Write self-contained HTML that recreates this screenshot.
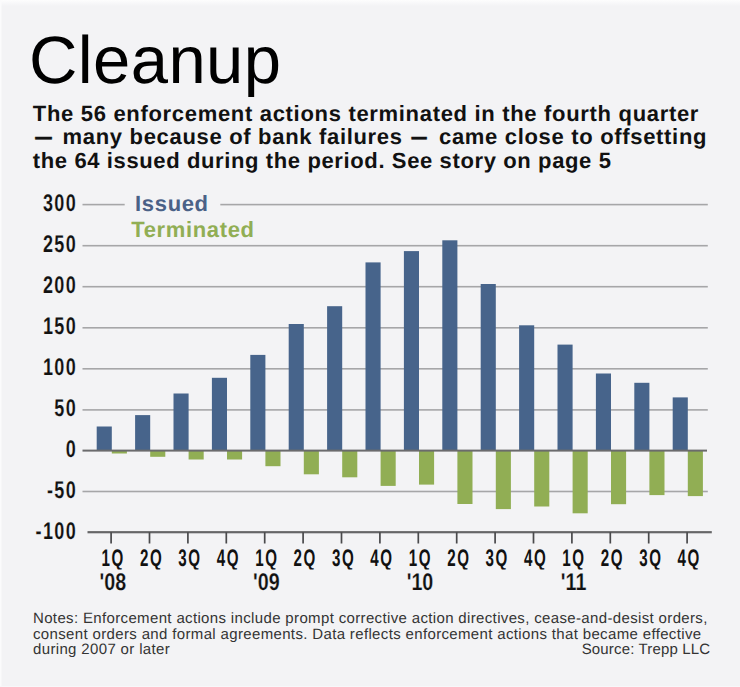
<!DOCTYPE html><html><head><meta charset="utf-8"><title>Cleanup</title><style>
html,body{margin:0;padding:0;background:#f3f3f5;}
svg{display:block;}
text{font-family:"Liberation Sans",Arial,Helvetica,sans-serif;text-rendering:geometricPrecision;}
.t{font-size:67px;fill:#000;letter-spacing:0.4px;}
.sub{font-size:22px;font-weight:bold;letter-spacing:0.68px;fill:#111;}
.dash{stroke:#111;stroke-width:0.6px;}
.yl{font-size:24px;font-weight:bold;fill:#111;stroke:#f3f3f5;stroke-width:0.15px;letter-spacing:1.80px;}
.xl{font-size:24px;font-weight:bold;fill:#111;stroke:#f3f3f5;stroke-width:0.20px;}
.lg{font-size:22px;font-weight:bold;letter-spacing:0.65px;}
.nt{font-size:15px;letter-spacing:0.35px;fill:#333;}
</style></head><body>
<svg width="740" height="687" viewBox="0 0 740 687">
<rect x="0" y="0" width="740" height="687" fill="#f3f3f5"/>
<defs><linearGradient id="tg" x1="0" y1="0" x2="0" y2="1"><stop offset="0" stop-color="#fdfdfd"/><stop offset="0.3" stop-color="#fafafb"/><stop offset="1" stop-color="#f3f3f5"/></linearGradient></defs>
<rect x="0" y="0" width="740" height="6" fill="url(#tg)"/>
<rect x="0" y="0" width="1.5" height="687" fill="#fbfbfc"/>
<rect x="0" y="686" width="740" height="1" fill="#f7f7f9"/>
<text class="t" x="29" y="83">Cleanup</text>
<text class="sub" x="32.8" y="121" style="letter-spacing:0.685px">The 56 enforcement actions terminated in the fourth quarter</text>
<text class="sub dash" transform="translate(35.2 144.3) scale(0.75 1)">—</text>
<text class="sub" x="62.6" y="144.3">many because of bank failures</text>
<text class="sub dash" transform="translate(411.6 144.3) scale(0.69 1)">—</text>
<text class="sub" x="439.0" y="144.3">came close to offsetting</text>
<text class="sub" x="32.8" y="167.5" style="letter-spacing:0.62px">the 64 issued during the period. See story on page 5</text>
<rect x="82.5" y="203.80" width="625.3" height="1.6" fill="#a6a6a8"/>
<rect x="82.5" y="244.90" width="625.3" height="1.6" fill="#a6a6a8"/>
<rect x="82.5" y="285.90" width="625.3" height="1.6" fill="#a6a6a8"/>
<rect x="82.5" y="327.00" width="625.3" height="1.6" fill="#a6a6a8"/>
<rect x="82.5" y="368.00" width="625.3" height="1.6" fill="#a6a6a8"/>
<rect x="82.5" y="409.10" width="625.3" height="1.6" fill="#a6a6a8"/>
<rect x="82.5" y="490.70" width="625.3" height="1.6" fill="#a6a6a8"/>
<rect x="96.7" y="426.5" width="15.1" height="24.1" fill="#47648b"/>
<rect x="111.8" y="450.6" width="15.1" height="2.9" fill="#91ae54"/>
<rect x="135.1" y="415.1" width="15.1" height="35.5" fill="#47648b"/>
<rect x="150.2" y="450.6" width="15.1" height="6.2" fill="#91ae54"/>
<rect x="173.5" y="393.5" width="15.1" height="57.1" fill="#47648b"/>
<rect x="188.6" y="450.6" width="15.1" height="8.9" fill="#91ae54"/>
<rect x="211.9" y="377.8" width="15.1" height="72.8" fill="#47648b"/>
<rect x="227.0" y="450.6" width="15.1" height="8.9" fill="#91ae54"/>
<rect x="250.3" y="354.9" width="15.1" height="95.7" fill="#47648b"/>
<rect x="265.4" y="450.6" width="15.1" height="15.6" fill="#91ae54"/>
<rect x="288.7" y="324.0" width="15.1" height="126.6" fill="#47648b"/>
<rect x="303.8" y="450.6" width="15.1" height="23.7" fill="#91ae54"/>
<rect x="327.1" y="306.2" width="15.1" height="144.4" fill="#47648b"/>
<rect x="342.2" y="450.6" width="15.1" height="26.7" fill="#91ae54"/>
<rect x="365.5" y="262.4" width="15.1" height="188.2" fill="#47648b"/>
<rect x="380.6" y="450.6" width="15.1" height="35.3" fill="#91ae54"/>
<rect x="403.9" y="251.1" width="15.1" height="199.5" fill="#47648b"/>
<rect x="419.0" y="450.6" width="15.1" height="34.0" fill="#91ae54"/>
<rect x="442.3" y="240.3" width="15.1" height="210.3" fill="#47648b"/>
<rect x="457.4" y="450.6" width="15.1" height="53.4" fill="#91ae54"/>
<rect x="480.7" y="284.0" width="15.1" height="166.6" fill="#47648b"/>
<rect x="495.8" y="450.6" width="15.1" height="58.5" fill="#91ae54"/>
<rect x="519.1" y="325.3" width="15.1" height="125.3" fill="#47648b"/>
<rect x="534.2" y="450.6" width="15.1" height="55.9" fill="#91ae54"/>
<rect x="557.5" y="344.6" width="15.1" height="106.0" fill="#47648b"/>
<rect x="572.6" y="450.6" width="15.1" height="62.7" fill="#91ae54"/>
<rect x="595.9" y="373.5" width="15.1" height="77.1" fill="#47648b"/>
<rect x="611.0" y="450.6" width="15.1" height="53.6" fill="#91ae54"/>
<rect x="634.3" y="382.8" width="15.1" height="67.8" fill="#47648b"/>
<rect x="649.4" y="450.6" width="15.1" height="44.5" fill="#91ae54"/>
<rect x="672.7" y="397.4" width="15.1" height="53.2" fill="#47648b"/>
<rect x="687.8" y="450.6" width="15.1" height="45.5" fill="#91ae54"/>
<rect x="82.5" y="449.6" width="624.5" height="2" fill="#6b6b6d"/>
<rect x="87.5" y="531.1" width="624.3" height="2.2" fill="#666668"/>
<rect x="110.25" y="532.2" width="1.7" height="11.3" fill="#4a4a4c"/>
<rect x="148.65" y="532.2" width="1.7" height="11.3" fill="#4a4a4c"/>
<rect x="187.05" y="532.2" width="1.7" height="11.3" fill="#4a4a4c"/>
<rect x="225.45" y="532.2" width="1.7" height="11.3" fill="#4a4a4c"/>
<rect x="263.85" y="532.2" width="1.7" height="11.3" fill="#4a4a4c"/>
<rect x="302.25" y="532.2" width="1.7" height="11.3" fill="#4a4a4c"/>
<rect x="340.65" y="532.2" width="1.7" height="11.3" fill="#4a4a4c"/>
<rect x="379.05" y="532.2" width="1.7" height="11.3" fill="#4a4a4c"/>
<rect x="417.45" y="532.2" width="1.7" height="11.3" fill="#4a4a4c"/>
<rect x="455.85" y="532.2" width="1.7" height="11.3" fill="#4a4a4c"/>
<rect x="494.25" y="532.2" width="1.7" height="11.3" fill="#4a4a4c"/>
<rect x="532.65" y="532.2" width="1.7" height="11.3" fill="#4a4a4c"/>
<rect x="571.05" y="532.2" width="1.7" height="11.3" fill="#4a4a4c"/>
<rect x="609.45" y="532.2" width="1.7" height="11.3" fill="#4a4a4c"/>
<rect x="647.85" y="532.2" width="1.7" height="11.3" fill="#4a4a4c"/>
<rect x="686.25" y="532.2" width="1.7" height="11.3" fill="#4a4a4c"/>
<rect x="124.7" y="196" width="95.6" height="16" fill="#f3f3f5"/>
<text class="lg" x="135.1" y="211.2" fill="#4a6187">Issued</text>
<text class="lg" x="131.2" y="236.9" fill="#91ae54">Terminated</text>
<text class="yl" text-anchor="end" transform="translate(77.0 210.7) scale(0.750 1)">300</text>
<text class="yl" text-anchor="end" transform="translate(77.0 251.8) scale(0.750 1)">250</text>
<text class="yl" text-anchor="end" transform="translate(77.0 292.8) scale(0.750 1)">200</text>
<text class="yl" text-anchor="end" transform="translate(77.0 333.9) scale(0.750 1)">150</text>
<text class="yl" text-anchor="end" transform="translate(77.0 374.9) scale(0.750 1)">100</text>
<text class="yl" text-anchor="end" transform="translate(77.0 416.0) scale(0.750 1)">50</text>
<text class="yl" text-anchor="end" transform="translate(77.0 456.5) scale(0.750 1)">0</text>
<text class="yl" text-anchor="end" transform="translate(77.0 497.6) scale(0.750 1)">-50</text>
<text class="yl" text-anchor="end" transform="translate(77.0 538.6) scale(0.750 1)">-100</text>
<text class="xl" text-anchor="middle" transform="translate(112.8 589.7) scale(0.820 1)">'08</text>
<text class="xl" text-anchor="middle" transform="translate(266.4 589.7) scale(0.820 1)">'09</text>
<text class="xl" text-anchor="middle" transform="translate(420.0 589.7) scale(0.820 1)">'10</text>
<text class="xl" text-anchor="middle" transform="translate(573.6 589.7) scale(0.820 1)">'11</text>
<defs><clipPath id="qc"><rect x="80" y="540" width="650" height="29.6"/></clipPath></defs>
<g clip-path="url(#qc)"><text class="xl" text-anchor="middle" style="letter-spacing:2.5px;stroke-width:0" transform="translate(113.2 566.3) scale(0.63 1)">1Q</text><text class="xl" text-anchor="middle" style="letter-spacing:2.5px;stroke-width:0" transform="translate(151.6 566.3) scale(0.63 1)">2Q</text><text class="xl" text-anchor="middle" style="letter-spacing:2.5px;stroke-width:0" transform="translate(190.0 566.3) scale(0.63 1)">3Q</text><text class="xl" text-anchor="middle" style="letter-spacing:2.5px;stroke-width:0" transform="translate(228.4 566.3) scale(0.63 1)">4Q</text><text class="xl" text-anchor="middle" style="letter-spacing:2.5px;stroke-width:0" transform="translate(266.8 566.3) scale(0.63 1)">1Q</text><text class="xl" text-anchor="middle" style="letter-spacing:2.5px;stroke-width:0" transform="translate(305.2 566.3) scale(0.63 1)">2Q</text><text class="xl" text-anchor="middle" style="letter-spacing:2.5px;stroke-width:0" transform="translate(343.6 566.3) scale(0.63 1)">3Q</text><text class="xl" text-anchor="middle" style="letter-spacing:2.5px;stroke-width:0" transform="translate(382.0 566.3) scale(0.63 1)">4Q</text><text class="xl" text-anchor="middle" style="letter-spacing:2.5px;stroke-width:0" transform="translate(420.4 566.3) scale(0.63 1)">1Q</text><text class="xl" text-anchor="middle" style="letter-spacing:2.5px;stroke-width:0" transform="translate(458.8 566.3) scale(0.63 1)">2Q</text><text class="xl" text-anchor="middle" style="letter-spacing:2.5px;stroke-width:0" transform="translate(497.2 566.3) scale(0.63 1)">3Q</text><text class="xl" text-anchor="middle" style="letter-spacing:2.5px;stroke-width:0" transform="translate(535.6 566.3) scale(0.63 1)">4Q</text><text class="xl" text-anchor="middle" style="letter-spacing:2.5px;stroke-width:0" transform="translate(574.0 566.3) scale(0.63 1)">1Q</text><text class="xl" text-anchor="middle" style="letter-spacing:2.5px;stroke-width:0" transform="translate(612.4 566.3) scale(0.63 1)">2Q</text><text class="xl" text-anchor="middle" style="letter-spacing:2.5px;stroke-width:0" transform="translate(650.8 566.3) scale(0.63 1)">3Q</text><text class="xl" text-anchor="middle" style="letter-spacing:2.5px;stroke-width:0" transform="translate(689.2 566.3) scale(0.63 1)">4Q</text></g>
<text class="nt" x="33" y="622.8">Notes: Enforcement actions include prompt corrective action directives, cease-and-desist orders,</text>
<text class="nt" x="33" y="638.6">consent orders and formal agreements. Data reflects enforcement actions that became effective</text>
<text class="nt" x="33" y="654">during 2007 or later</text>
<text class="nt" x="710.2" y="654.2" text-anchor="end" style="letter-spacing:0.15px">Source: Trepp LLC</text>
</svg></body></html>
